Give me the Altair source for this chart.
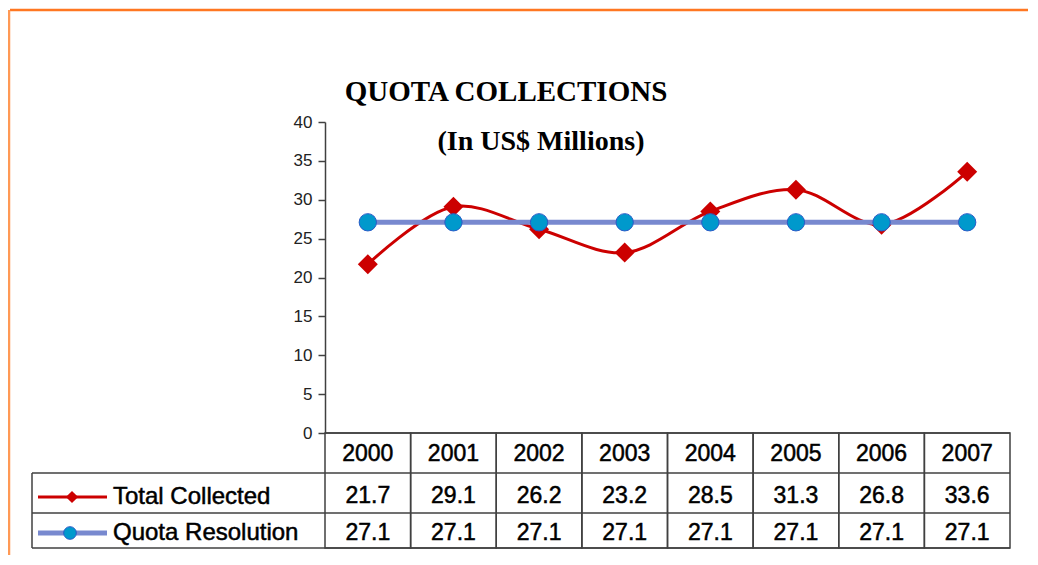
import altair as alt
import pandas as pd

# ---- data ----
years = ["2000", "2001", "2002", "2003", "2004", "2005", "2006", "2007"]
total_collected = [21.7, 29.1, 26.2, 23.2, 28.5, 31.3, 26.8, 33.6]
quota_resolution = [27.1, 27.1, 27.1, 27.1, 27.1, 27.1, 27.1, 27.1]
series_names = ["Total Collected", "Quota Resolution"]
y_ticks = [0, 5, 10, 15, 20, 25, 30, 35, 40]
title_text = "QUOTA COLLECTIONS"
subtitle_text = "(In US$ Millions)"

RED = "#CC0000"
BLUE_LINE = "#7889CF"
BLUE_FILL = "#0099CC"
BLUE_EDGE = "#2A5BC8"
GRID = "#404040"
FONT = "Liberation Sans"

W, H = 685, 311

df_total = pd.DataFrame({"year": years, "value": total_collected})
df_quota = pd.DataFrame({"year": years, "value": quota_resolution})
df_years = pd.DataFrame({"year": years})
one = pd.DataFrame({"k": [0]})

xscale = alt.Scale(type="band", paddingInner=0, paddingOuter=0, domain=years)
xenc = alt.X("year:N", scale=xscale, axis=None, bandPosition=0.5)
yscale = alt.Scale(domain=[0, 40], nice=False, zero=True)
yaxis = alt.Axis(values=y_ticks, title=None, grid=False, tickSize=7, labelPadding=6,
                 labelFontSize=17, labelFont=FONT, labelColor="#222222", labelOverlap=False,
                 domainColor=GRID, tickColor=GRID, domainWidth=1.5, tickWidth=1.5)
yenc = alt.Y("value:Q", scale=yscale, axis=yaxis)

# frame (orange)
frame_top = alt.Chart(one).mark_rule(color="#FF7722", strokeWidth=2.5).encode(
    x=alt.value(-315), x2=alt.value(W + 20), y=alt.value(-112))
frame_left = alt.Chart(one).mark_rule(color="#FF9955", strokeWidth=2.5).encode(
    x=alt.value(-316), y=alt.value(-112), y2=alt.value(H + 130))

# table
col_boxes = alt.Chart(df_years).mark_rect(fill=None, stroke=GRID, strokeWidth=1.5).encode(
    x=alt.X("year:N", scale=xscale, axis=None),
    y=alt.value(H), y2=alt.value(H + 115))
row_rules = [
    alt.Chart(one).mark_rule(color=GRID, strokeWidth=1.5).encode(
        x=alt.value(0), x2=alt.value(W), y=alt.value(H)),
    alt.Chart(one).mark_rule(color=GRID, strokeWidth=1.5).encode(
        x=alt.value(-293), x2=alt.value(W), y=alt.value(H + 40)),
    alt.Chart(one).mark_rule(color=GRID, strokeWidth=1.5).encode(
        x=alt.value(-293), x2=alt.value(W), y=alt.value(H + 80)),
    alt.Chart(one).mark_rule(color=GRID, strokeWidth=1.5).encode(
        x=alt.value(-293), x2=alt.value(W), y=alt.value(H + 115)),
    alt.Chart(one).mark_rule(color=GRID, strokeWidth=1.5).encode(
        x=alt.value(-293), y=alt.value(H + 40), y2=alt.value(H + 115)),
]

txt_kw = dict(font=FONT, fontSize=23, color="#000000", baseline="middle", align="center",
              stroke="#000000", strokeWidth=0.5)
year_text = alt.Chart(df_years).mark_text(**txt_kw).encode(x=xenc, y=alt.value(H + 21), text="year:N")
total_text = alt.Chart(df_total).mark_text(**txt_kw).encode(
    x=xenc, y=alt.value(H + 63), text=alt.Text("value:Q", format=".1f"))
quota_text = alt.Chart(df_quota).mark_text(**txt_kw).encode(
    x=xenc, y=alt.value(H + 100), text=alt.Text("value:Q", format=".1f"))

# legend cells
leg_df1 = pd.DataFrame({"name": [series_names[0]]})
leg_df2 = pd.DataFrame({"name": [series_names[1]]})
leg_kw = dict(font=FONT, fontSize=24, color="#000000", align="left", baseline="middle",
              stroke="#000000", strokeWidth=0.5)
leg_red_line = alt.Chart(leg_df1).mark_rule(color=RED, strokeWidth=3).encode(
    x=alt.value(-287), x2=alt.value(-218), y=alt.value(H + 64))
leg_red_pt = alt.Chart(leg_df1).mark_point(shape="diamond", filled=True, color=RED, size=150, opacity=1).encode(
    x=alt.value(-253), y=alt.value(H + 64))
leg_red_txt = alt.Chart(leg_df1).mark_text(**leg_kw).encode(
    x=alt.value(-212), y=alt.value(H + 64), text="name:N")
leg_blue_line = alt.Chart(leg_df2).mark_rule(color=BLUE_LINE, strokeWidth=5).encode(
    x=alt.value(-287), x2=alt.value(-218), y=alt.value(H + 100))
leg_blue_pt = alt.Chart(leg_df2).mark_point(shape="circle", filled=True, fill=BLUE_FILL, stroke=BLUE_EDGE,
                                           strokeWidth=1, size=160, opacity=1).encode(
    x=alt.value(-255), y=alt.value(H + 100))
leg_blue_txt = alt.Chart(leg_df2).mark_text(**leg_kw).encode(
    x=alt.value(-212), y=alt.value(H + 100), text="name:N")

# series
red_line = alt.Chart(df_total).mark_line(color=RED, strokeWidth=3, interpolate="catmull-rom").encode(
    x=xenc, y=yenc)
red_pts = alt.Chart(df_total).mark_point(shape="diamond", filled=True, color=RED, size=400, opacity=1).encode(
    x=xenc, y=yenc)
blue_line = alt.Chart(df_quota).mark_line(color=BLUE_LINE, strokeWidth=5).encode(
    x=xenc, y=yenc)
blue_pts = alt.Chart(df_quota).mark_point(shape="circle", filled=True, fill=BLUE_FILL, stroke=BLUE_EDGE,
                                         strokeWidth=1, size=300, opacity=1).encode(
    x=xenc, y=yenc)

# titles
title_mark = alt.Chart(pd.DataFrame({"t": [title_text]})).mark_text(
    font="Liberation Serif", fontSize=29, fontWeight="bold", color="#000000", align="center",
    baseline="alphabetic").encode(x=alt.value(181), y=alt.value(-21), text="t:N")
subtitle_mark = alt.Chart(pd.DataFrame({"t": [subtitle_text]})).mark_text(
    font="Liberation Serif", fontSize=28, fontWeight="bold", color="#000000", align="center",
    baseline="alphabetic").encode(x=alt.value(216), y=alt.value(28), text="t:N")

chart = alt.layer(
    red_line, red_pts, blue_line, blue_pts,
    frame_top, frame_left, col_boxes, *row_rules,
    year_text, total_text, quota_text,
    leg_red_line, leg_red_pt, leg_red_txt, leg_blue_line, leg_blue_pt, leg_blue_txt,
    title_mark, subtitle_mark,
).resolve_scale(x="shared", y="shared").properties(
    width=W, height=H,
    padding={"left": 317, "top": 114, "right": 18, "bottom": 122},
    autosize=alt.AutoSizeParams(type="none"),
    background="white",
).configure_view(stroke=None).configure_axisY(
    labelFontSize=17, labelFont=FONT, labelColor="#222222"
)

chart.save("out.html", embed_options={"renderer": "svg", "actions": False})
